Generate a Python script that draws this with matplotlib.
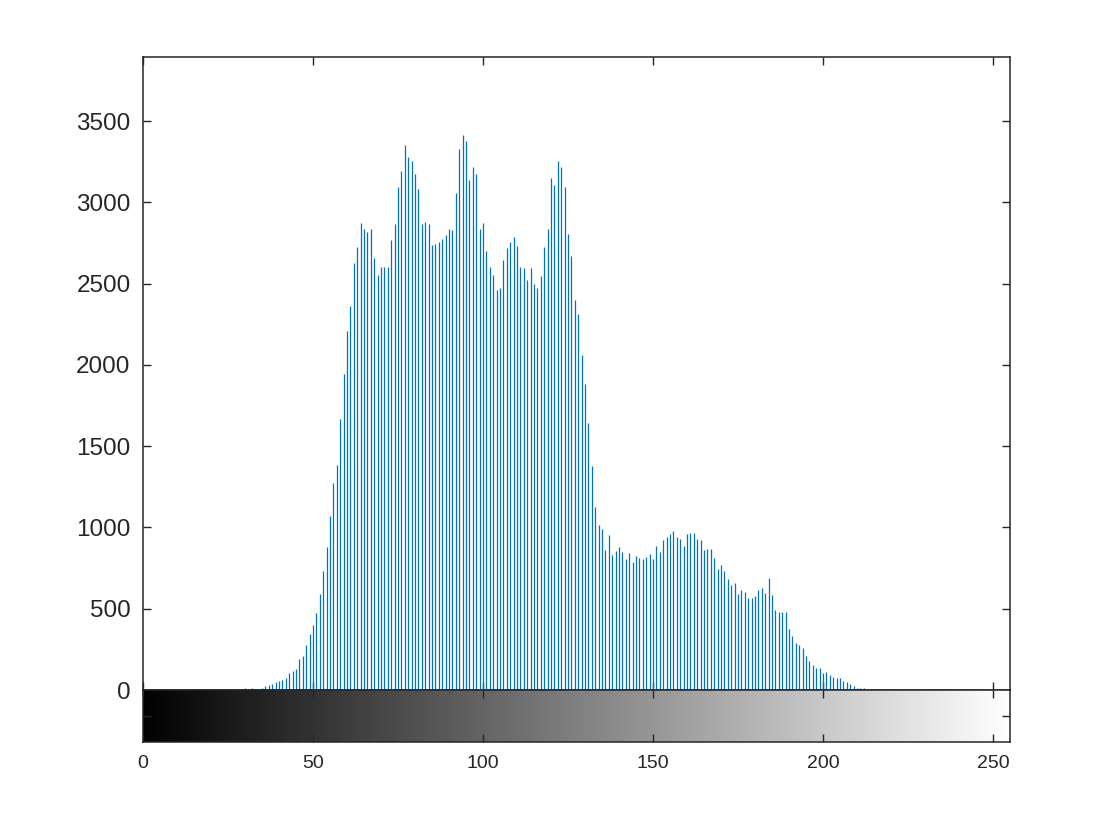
import numpy as np
import matplotlib
matplotlib.use("Agg")
import matplotlib.pyplot as plt

plt.rcParams['font.family'] = ['Liberation Sans', 'DejaVu Sans']

# histogram counts for gray levels first_level .. first_level+len(counts)-1 (others are 0)
first_level = 24
counts = [
    3, 0, 0, 3, 0, 4, 10, 5, 10, 5, 5, 12, 23, 29, 35, 47,          # 24-39
    53, 60, 72, 103, 115, 127, 189, 207, 276, 343,                  # 40-49
    398, 472, 590, 731, 880, 1070, 1271, 1382, 1667, 1944,          # 50-59
    2206, 2360, 2627, 2723, 2873, 2834, 2817, 2834, 2655, 2551,     # 60-69
    2604, 2604, 2604, 2771, 2864, 3093, 3194, 3354, 3281, 3257,     # 70-79
    3172, 3079, 2864, 2881, 2864, 2735, 2742, 2754, 2777, 2796,     # 80-89
    2838, 2831, 3055, 3328, 3413, 3375, 3135, 3215, 3175, 2834,     # 90-99
    2871, 2698, 2600, 2555, 2459, 2476, 2643, 2718, 2754, 2784,     # 100-109
    2730, 2600, 2593, 2521, 2593, 2495, 2471, 2544, 2726, 2834,     # 110-119
    3147, 3109, 3253, 3215, 3097, 2803, 2669, 2398, 2311, 2060,     # 120-129
    1880, 1643, 1375, 1127, 1017, 991, 860, 955, 831, 853,          # 130-139
    877, 847, 804, 840, 789, 825, 810, 804, 821, 838,               # 140-149
    804, 883, 852, 920, 940, 962, 980, 943, 931, 888,               # 150-159
    957, 964, 964, 931, 925, 863, 869, 869, 814, 746,               # 160-169
    771, 734, 685, 648, 660, 593, 617, 605, 568, 568,               # 170-179
    580, 617, 629, 599, 691, 587, 494, 482, 478, 478,               # 180-189
    377, 332, 291, 279, 260, 211, 180, 156, 137, 137,               # 190-199
    106, 113, 92, 82, 76, 76, 57, 51, 39, 27,                       # 200-209
    10, 10, 10, 4, 4, 3, 3,                                         # 210-216
]
x_ticks = [0, 50, 100, 150, 200, 250]
y_ticks = [0, 500, 1000, 1500, 2000, 2500, 3000, 3500]

hist = np.zeros(256)
hist[first_level:first_level + len(counts)] = counts
levels = np.arange(256)

fig = plt.figure(figsize=(11.12, 8.3), dpi=100)
W, H = 1112, 830
ax = fig.add_axes([143 / W, 1 - 690 / H, 867 / W, 633 / H])
cax = fig.add_axes([143 / W, 1 - 742 / H, 867 / W, 52 / H])

edge = '#262626'

nz = hist > 0
ax.vlines(levels[nz], 0, hist[nz], color='#0072BD', linewidth=0.9)
ax.set_xlim(0, 255)
ax.set_ylim(0, 3894)
ax.set_yticks(y_ticks)
ax.set_xticks(x_ticks)
ax.set_xticklabels([])
ax.tick_params(direction='in', length=6, width=1, colors=edge, labelcolor=edge,
               labelsize=17.5, top=True, right=True, pad=9)
for s in ax.spines.values():
    s.set_color(edge)
    s.set_linewidth(1.1)

# gray colour bar under the histogram
cax.imshow(levels[np.newaxis, :], cmap='gray', aspect='auto',
           extent=[-0.5, 255.5, 0, 1], vmin=0, vmax=255, interpolation='nearest')
cax.set_xlim(0, 255)
cax.set_ylim(0, 1)
cax.set_xticks(x_ticks)
cax.set_yticks([0.5])
cax.set_yticklabels([])
cax.tick_params(direction='in', length=6, width=1, colors=edge, labelcolor=edge,
                labelsize=14, top=True, right=True, pad=9)
for s in cax.spines.values():
    s.set_color(edge)
    s.set_linewidth(1.1)

fig.savefig('out.png', dpi=100, facecolor='white')
